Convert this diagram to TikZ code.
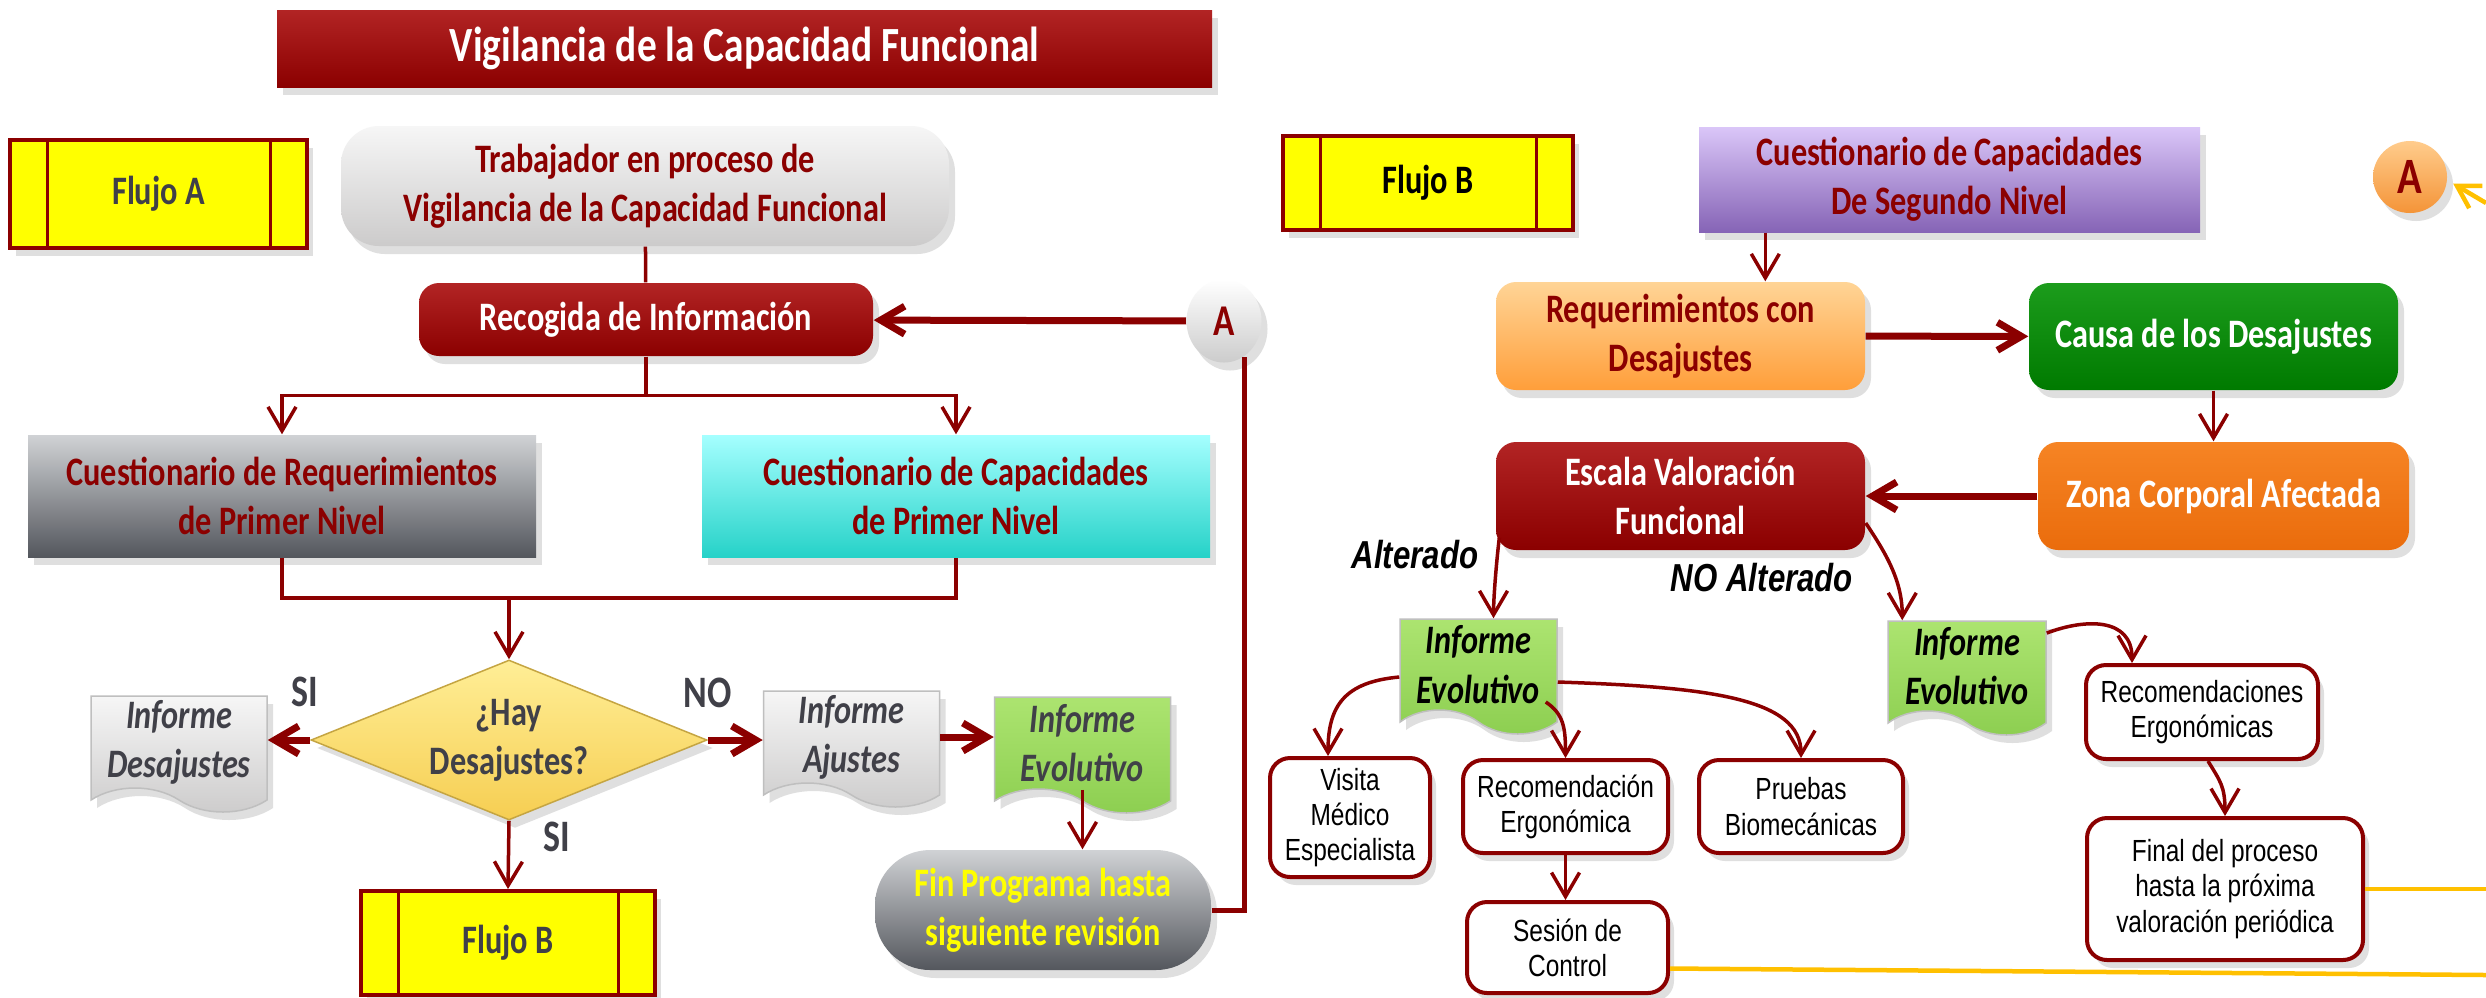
\documentclass[tikz,border=0pt]{standalone}
\usepackage{fontspec}
\setmainfont{Carlito}[FakeStretch=0.80]
\newfontfamily\arial{Liberation Sans}[FakeStretch=0.80]
\usepackage{tikz}
\usetikzlibrary{shapes.geometric, shapes.symbols, arrows.meta, positioning, shadows}

\definecolor{vino}{RGB}{139,0,0}
\definecolor{vinoTop}{RGB}{178,36,36}
\definecolor{grisTxt}{RGB}{64,64,72}
\definecolor{amarillo}{RGB}{255,255,0}
\definecolor{oro}{RGB}{255,192,0}
\definecolor{grisClTop}{RGB}{246,246,246}
\definecolor{grisClBot}{RGB}{204,203,203}
\definecolor{grisOscTop}{RGB}{208,210,213}
\definecolor{grisOscBot}{RGB}{84,87,93}
\definecolor{cianTop}{RGB}{165,255,255}
\definecolor{cianBot}{RGB}{38,210,200}
\definecolor{oroTop}{RGB}{255,238,150}
\definecolor{oroBot}{RGB}{246,206,82}
\definecolor{verdeTop}{RGB}{172,228,112}
\definecolor{verdeBot}{RGB}{140,206,80}
\definecolor{moradoTop}{RGB}{218,198,248}
\definecolor{moradoBot}{RGB}{134,100,182}
\definecolor{narClTop}{RGB}{255,212,150}
\definecolor{narClBot}{RGB}{255,158,58}
\definecolor{verdeOscTop}{RGB}{28,156,28}
\definecolor{verdeOscBot}{RGB}{0,122,0}
\definecolor{narTop}{RGB}{246,132,36}
\definecolor{narBot}{RGB}{234,108,12}
\definecolor{narATop}{RGB}{255,204,140}
\definecolor{narABot}{RGB}{244,148,56}

\tikzset{
	texto/.style={align=center, inner sep=0pt, font=\fontsize{11.5}{14}\selectfont\bfseries},
	sombra/.style={drop shadow={shadow xshift=0.6mm, shadow yshift=-0.8mm, opacity=0.25}},
	caja/.style={texto, rectangle, sombra},
	redonda/.style={caja, rounded corners=#1},
	flujo/.style={caja, draw=vino, line width=0.4mm, fill=amarillo, text=grisTxt,
		path picture={\draw[vino, line width=0.3mm]
			([xshift=3.7mm]path picture bounding box.north west) -- ([xshift=3.7mm]path picture bounding box.south west)
			([xshift=-3.7mm]path picture bounding box.north east) -- ([xshift=-3.7mm]path picture bounding box.south east);}},
	doc/.style={texto, tape, tape bend top=none, tape bend bottom=out and in, tape bend height=2.4mm, sombra,
		draw=black!25, line width=0.15mm, minimum width=17.6mm, minimum height=11.6mm,
		font=\fontsize{11.5}{14}\selectfont\bfseries\itshape},
	decision/.style={texto, diamond, aspect=2.5, sombra, top color=oroTop, bottom color=oroBot, draw=oroBot!80!black,
		line width=0.15mm, text=grisTxt, minimum width=39.6mm, minimum height=16mm},
	blanca/.style={align=center, inner sep=0pt, rounded corners=2mm, draw=vino, line width=0.4mm, fill=white, sombra,
		font=\arial\fontsize{8.7}{10}\selectfont},
	letra/.style={ellipse, texto, sombra, font=\fontsize{12.5}{14}\selectfont\bfseries, text=vino},
	etiq/.style={inner sep=0pt, font=\fontsize{12.8}{14}\selectfont\bfseries, text=grisTxt},
	rama/.style={inner sep=0pt, font=\arial\fontsize{11.1}{12}\selectfont\bfseries\itshape},
	linea/.style={draw=vino, line width=0.35mm},
	flecha/.style={linea, -{Straight Barb[length=2.4mm, width=2.8mm]}},
	gorda/.style={flecha, line width=0.7mm},
	dorada/.style={draw=oro, line width=0.45mm},
}

\begin{document}
\begin{tikzpicture}[x=0.1mm, y=-0.1mm]
	\fill[white] (0,0) rectangle (2486,997);
	\useasboundingbox (0,0) rectangle (2486,997);

	\node[caja, top color=vinoTop, bottom color=vino, text=white, minimum width=93.5mm, minimum height=7.7mm,
		font=\fontsize{14}{15}\selectfont\bfseries] (titulo) at (744.5,48.5) {Vigilancia de la Capacidad Funcional};

	% Flujo A
	\node[flujo, minimum width=29.7mm, minimum height=10.8mm] (flujoA) at (158.5,194) {Flujo A};
	\node[redonda=3.8mm, top color=grisClTop, bottom color=grisClBot, text=vino, minimum width=60.8mm, minimum height=12mm]
		(trab) at (645,186) {Trabajador en proceso de\\Vigilancia de la Capacidad Funcional};
	\node[redonda=2mm, top color=vinoTop, bottom color=vino, text=white, minimum width=45.4mm, minimum height=7.3mm]
		(recog) at (646,319.5) {Recogida de Información};
	\node[letra, top color=white, bottom color=gray!40, minimum width=7.5mm, minimum height=8.3mm] (aIzq) at (1224,321) {A};
	\node[caja, top color=grisOscTop, bottom color=grisOscBot, text=vino, minimum width=50.8mm, minimum height=12.2mm]
		(cReq) at (282,496) {Cuestionario de Requerimientos\\de Primer Nivel};
	\node[caja, top color=cianTop, bottom color=cianBot, text=vino, minimum width=50.8mm, minimum height=12.2mm]
		(cCap) at (956,496) {Cuestionario de Capacidades\\de Primer Nivel};
	\node[decision] (hay) at (509,740) {¿Hay\\Desajustes?};
	\node[doc, top color=grisClTop, bottom color=grisClBot, text=grisTxt] (infDes) at (179,742) {Informe\\Desajustes};
	\node[doc, top color=grisClTop, bottom color=grisClBot, text=grisTxt] (infAju) at (851.5,737) {Informe\\Ajustes};
	\node[doc, top color=verdeTop, bottom color=verdeBot, text=grisTxt] (infEvo) at (1082.5,743) {Informe\\Evolutivo};
	\node[redonda=5.5mm, top color=grisOscTop, bottom color=grisOscBot, text=amarillo, minimum width=33.6mm, minimum height=12mm]
		(fin) at (1043,910) {Fin Programa hasta\\siguiente revisión};
	\node[flujo, minimum width=29.4mm, minimum height=10.4mm] (flujoBb) at (508,943) {Flujo B};
	\node[etiq] (siIzq) at (305,692) {SI};
	\node[etiq] (no) at (708,693) {NO};

	\draw[linea] (trab) -- (recog);
	\draw[gorda] (aIzq) -- (recog);
	\draw[flecha] (recog.south) -- ++(0,39) -| (cReq.north);
	\draw[flecha] (recog.south) -- ++(0,39) -| (cCap.north);
	\coordinate (junta) at (509,598);
	\draw[linea] (cReq.south) |- (junta) -| (cCap.south);
	\draw[flecha] (junta) -- (hay.north);
	\foreach \de/\a in {hay.west/infDes.east, hay.east/infAju.west, infAju.east/infEvo.west}
		\draw[gorda] (\de) -- (\de -| \a);
	\draw[flecha] (hay.south) -- node[pos=0.24, anchor=west, xshift=3.3mm, etiq] {SI} (flujoBb.north);
	\draw[flecha] (infEvo.south) -- (infEvo.south |- fin.north);
	\draw[linea, line width=0.5mm] (fin.east) -| (aIzq.-60);

	% Flujo B
	\node[flujo, text=black, minimum width=29mm, minimum height=9.4mm] (flujoB) at (1428,183) {Flujo B};
	\node[caja, top color=moradoTop, bottom color=moradoBot, text=vino, minimum width=50.1mm, minimum height=10.5mm]
		(cSeg) at (1949.5,179.5) {Cuestionario de Capacidades\\De Segundo Nivel};
	\node[letra, top color=narATop, bottom color=narABot, minimum width=7.4mm, minimum height=7.2mm,
		font=\fontsize{14.5}{15}\selectfont\bfseries] (aDer) at (2410,177) {A};
	\node[redonda=2mm, top color=narClTop, bottom color=narClBot, text=vino, minimum width=36.9mm, minimum height=10.8mm]
		(reqDes) at (1680.5,336) {Requerimientos con\\Desajustes};
	\node[redonda=2mm, top color=verdeOscTop, bottom color=verdeOscBot, text=white, minimum width=36.9mm, minimum height=10.7mm]
		(causa) at (2213.5,336.5) {Causa de los Desajustes};
	\node[redonda=2mm, top color=narTop, bottom color=narBot, text=white, minimum width=37.1mm, minimum height=10.8mm]
		(zona) at (2223.5,496) {Zona Corporal Afectada};
	\node[redonda=2mm, top color=vinoTop, bottom color=vino, text=white, minimum width=36.9mm, minimum height=10.8mm]
		(escala) at (1680.5,496) {Escala Valoración\\Funcional};
	\node[doc, top color=verdeTop, bottom color=verdeBot, text=black, minimum width=15.7mm, minimum height=11.5mm]
		(evoAlt) at (1478.5,664.5) {Informe\\Evolutivo};
	\node[doc, top color=verdeTop, bottom color=verdeBot, text=black, minimum width=15.8mm, minimum height=11.4mm]
		(evoNo) at (1967,666) {Informe\\Evolutivo};
	\node[rama] (alt) at (1415,555) {Alterado};
	\node[rama] (noAlt) at (1762,578) {NO Alterado};
	\node[blanca, minimum width=16mm, minimum height=11.9mm] (visita) at (1350,817.5) {Visita\\Médico\\Especialista};
	\node[blanca, minimum width=20.5mm, minimum height=9.3mm] (recErg) at (1565.5,806.5) {Recomendación\\Ergonómica};
	\node[blanca, minimum width=20.4mm, minimum height=9.3mm] (pruebas) at (1801,806.5) {Pruebas\\Biomecánicas};
	\node[blanca, minimum width=20.1mm, minimum height=9.1mm] (sesion) at (1567.5,947.5) {Sesión de\\Control};
	\node[blanca, minimum width=23.2mm, minimum height=9.4mm] (recEs) at (2202,712) {Recomendaciones\\Ergonómicas};
	\node[blanca, minimum width=27.6mm, minimum height=14.2mm] (final) at (2225,889)
		{Final del proceso\\hasta la próxima\\valoración periódica};

	\draw[flecha] ([xshift=6.7mm]cSeg.south west) -- ([xshift=6.7mm]cSeg.south west |- reqDes.north);
	\draw[gorda] (reqDes) -- (causa);
	\draw[flecha] (causa.south) -- (causa.south |- zona.north);
	\draw[gorda] (zona) -- (escala);
	\draw[flecha] ([xshift=0.4mm, yshift=1.3mm]escala.south west) .. controls +(-3,25) and +(0,-20) .. ([xshift=1.5mm]evoAlt.north);
	\draw[flecha] ([yshift=-2.7mm]escala.east) .. controls +(20,30) and +(0,-40) .. ([xshift=1.5mm]evoNo.north west);
	\draw[flecha] ([yshift=-1.25mm]evoAlt.west) .. controls +(-55,5) and +(0,-50) .. ([xshift=-2.2mm]visita.north);
	\draw[flecha] ([xshift=-1.2mm, yshift=-3.75mm]evoAlt.east) .. controls +(18,12) and +(0,-30) .. (recErg.north);
	\draw[flecha] ([yshift=-1.75mm]evoAlt.east) .. controls +(150,5) and +(0,-60) .. (pruebas.north);
	\draw[flecha] (recErg.south) -- (recErg.south |- sesion.north);
	\draw[flecha] ([yshift=3.3mm]evoNo.east) .. controls +(40,-15) and +(0,-45) .. ([xshift=4.8mm]recEs.north west);
	\draw[flecha] ([xshift=0.6mm]recEs.south) .. controls +(12,20) and +(0,-30) .. (final.north);

	% salidas a la derecha
	\coordinate (bordeA) at (2486,203);
	\coordinate (bordeF) at (2486,889);
	\coordinate (bordeS) at (2486,975);
	\draw[dorada, -{Straight Barb[length=2.2mm, width=2.6mm]}] (bordeA) -- ([xshift=0.6mm]aDer.-10);
	\draw[dorada] (final.east) -- (bordeF);
	\draw[dorada] ([yshift=-2.1mm]sesion.east) -- (bordeS);
\end{tikzpicture}
\end{document}
